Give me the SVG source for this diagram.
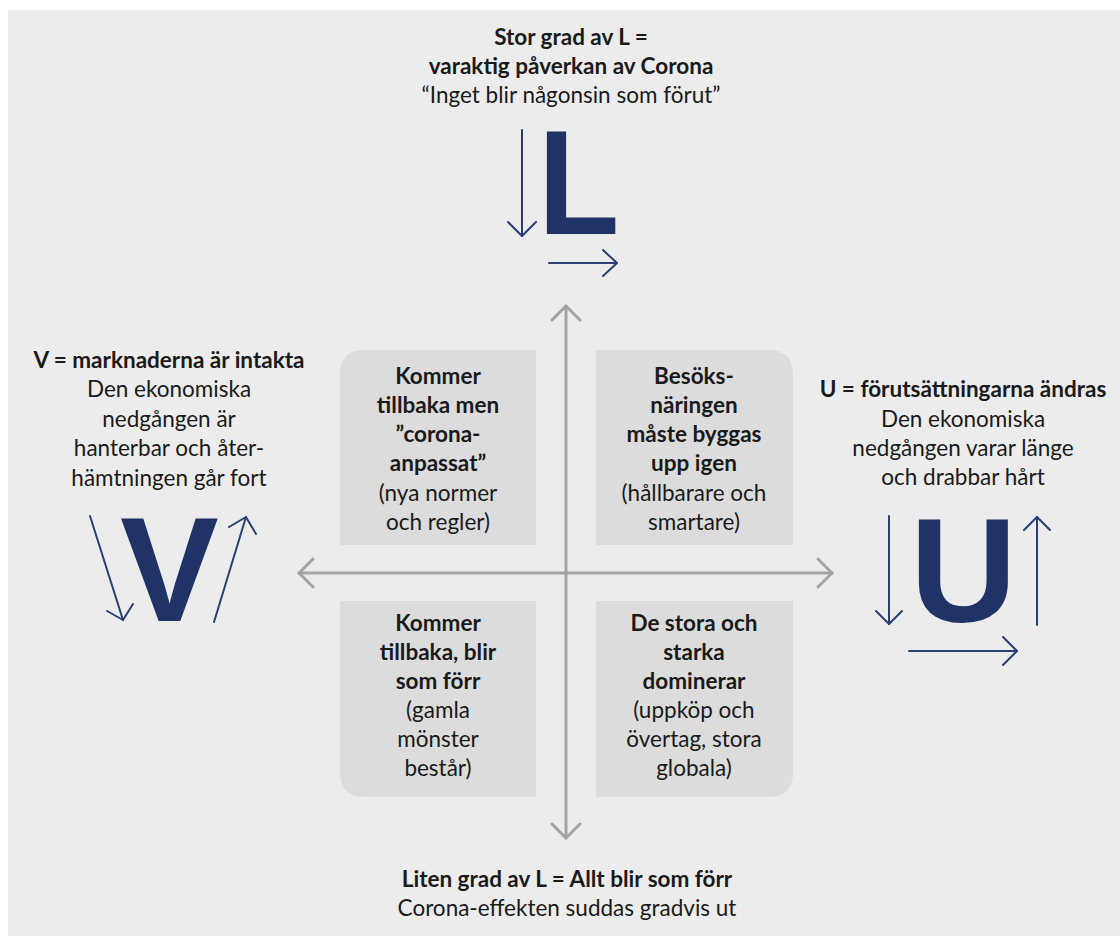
<svg xmlns="http://www.w3.org/2000/svg" width="1120" height="936" viewBox="0 0 1120 936">
<style>
text{font-family:Lato,"Liberation Sans",sans-serif;fill:#1a1a1a;text-anchor:middle}
.b{font-weight:bold;font-size:22.5px}
.r{font-size:22.5px}
.big{font-family:"Liberation Sans",Arial,sans-serif;font-weight:bold;font-size:148px;fill:#1f3366;text-anchor:start}
.box{fill:#dcdcdc}
.ax{stroke:#a3a3a3;stroke-width:3;fill:none;stroke-linecap:round;stroke-linejoin:round}
.nv{stroke:#2a3f73;stroke-width:2;fill:none;stroke-linecap:round;stroke-linejoin:round}
</style>
<rect width="1120" height="936" fill="#ffffff"/>
<rect x="8" y="10" width="1112" height="926" fill="#ececec"/>

<g id="connectors">
<line class="ax" x1="566" y1="306" x2="566" y2="838"/>
<polyline class="ax" points="552,320 566,306 580,320"/>
<polyline class="ax" points="552,824 566,838 580,824"/>
<line class="ax" x1="299" y1="573" x2="832" y2="573"/>
<polyline class="ax" points="313,559 299,573 313,587"/>
<polyline class="ax" points="818,559 832,573 818,587"/>
</g>

<g id="q-top-left">
<path class="box" d="M340,545 V375 Q340,350 365,350 H536 V545 Z"/>
<text class="b" x="438" y="384">Kommer</text>
<text class="b" x="438" y="413">tillbaka men</text>
<text class="b" x="438" y="442">”corona-</text>
<text class="b" x="438" y="471">anpassat”</text>
<text class="r" x="438" y="501">(nya normer</text>
<text class="r" x="438" y="530">och regler)</text>
</g>

<g id="q-top-right">
<path class="box" d="M596,350 H768 Q793,350 793,375 V545 H596 Z"/>
<text class="b" x="694" y="384">Besöks-</text>
<text class="b" x="694" y="413">näringen</text>
<text class="b" x="694" y="442">måste byggas</text>
<text class="b" x="694" y="471">upp igen</text>
<text class="r" x="694" y="501">(hållbarare och</text>
<text class="r" x="694" y="530">smartare)</text>
</g>

<g id="q-bottom-left">
<path class="box" d="M340,601 H536 V797 H365 Q340,797 340,772 Z"/>
<text class="b" x="438" y="631">Kommer</text>
<text class="b" x="438" y="660">tillbaka, blir</text>
<text class="b" x="438" y="689">som förr</text>
<text class="r" x="438" y="718">(gamla</text>
<text class="r" x="438" y="747">mönster</text>
<text class="r" x="438" y="776">består)</text>
</g>

<g id="q-bottom-right">
<path class="box" d="M596,601 H793 V772 Q793,797 768,797 H596 Z"/>
<text class="b" x="694" y="631">De stora och</text>
<text class="b" x="694" y="660">starka</text>
<text class="b" x="694" y="689">dominerar</text>
<text class="r" x="694" y="718">(uppköp och</text>
<text class="r" x="694" y="747">övertag, stora</text>
<text class="r" x="694" y="776">globala)</text>
</g>

<g id="top-L">
<text class="b" x="571" y="45">Stor grad av L =</text>
<text class="b" x="571" y="74">varaktig påverkan av Corona</text>
<text class="r" x="571" y="103">“Inget blir någonsin som förut”</text>
<text class="big" transform="translate(538,234) scale(0.9,1)" x="0" y="0">L</text>
<line class="nv" x1="522" y1="130" x2="522" y2="236"/>
<polyline class="nv" points="508,222 522,236 536,222"/>
<line class="nv" x1="549" y1="263" x2="617" y2="263"/>
<polyline class="nv" points="603,250 617,263 603,276"/>
</g>

<g id="left-V">
<text class="b" x="169" y="368">V = marknaderna är intakta</text>
<text class="r" x="169" y="397">Den ekonomiska</text>
<text class="r" x="169" y="427">nedgången är</text>
<text class="r" x="169" y="456">hanterbar och åter-</text>
<text class="r" x="169" y="486">hämtningen går fort</text>
<text class="big" x="120" y="621">V</text>
<line class="nv" x1="90" y1="516" x2="123" y2="620"/>
<polyline class="nv" points="107,611 123,620 133,604"/>
<line class="nv" x1="214" y1="622" x2="246" y2="517"/>
<polyline class="nv" points="229,527 246,517 256,534"/>
</g>

<g id="right-U">
<text class="b" x="963" y="397">U = förutsättningarna ändras</text>
<text class="r" x="963" y="427">Den ekonomiska</text>
<text class="r" x="963" y="456">nedgången varar länge</text>
<text class="r" x="963" y="485">och drabbar hårt</text>
<text class="big" x="910" y="622">U</text>
<line class="nv" x1="889" y1="516" x2="889" y2="624"/>
<polyline class="nv" points="876,611 889,624 902,611"/>
<line class="nv" x1="1037" y1="625" x2="1037" y2="517"/>
<polyline class="nv" points="1024,530 1037,517 1050,530"/>
<line class="nv" x1="909" y1="651" x2="1017" y2="651"/>
<polyline class="nv" points="1003,637 1017,651 1003,665"/>
</g>

<g id="bottom">
<text class="b" x="567" y="887">Liten grad av L = Allt blir som förr</text>
<text class="r" x="567" y="916">Corona-effekten suddas gradvis ut</text>
</g>
</svg>
